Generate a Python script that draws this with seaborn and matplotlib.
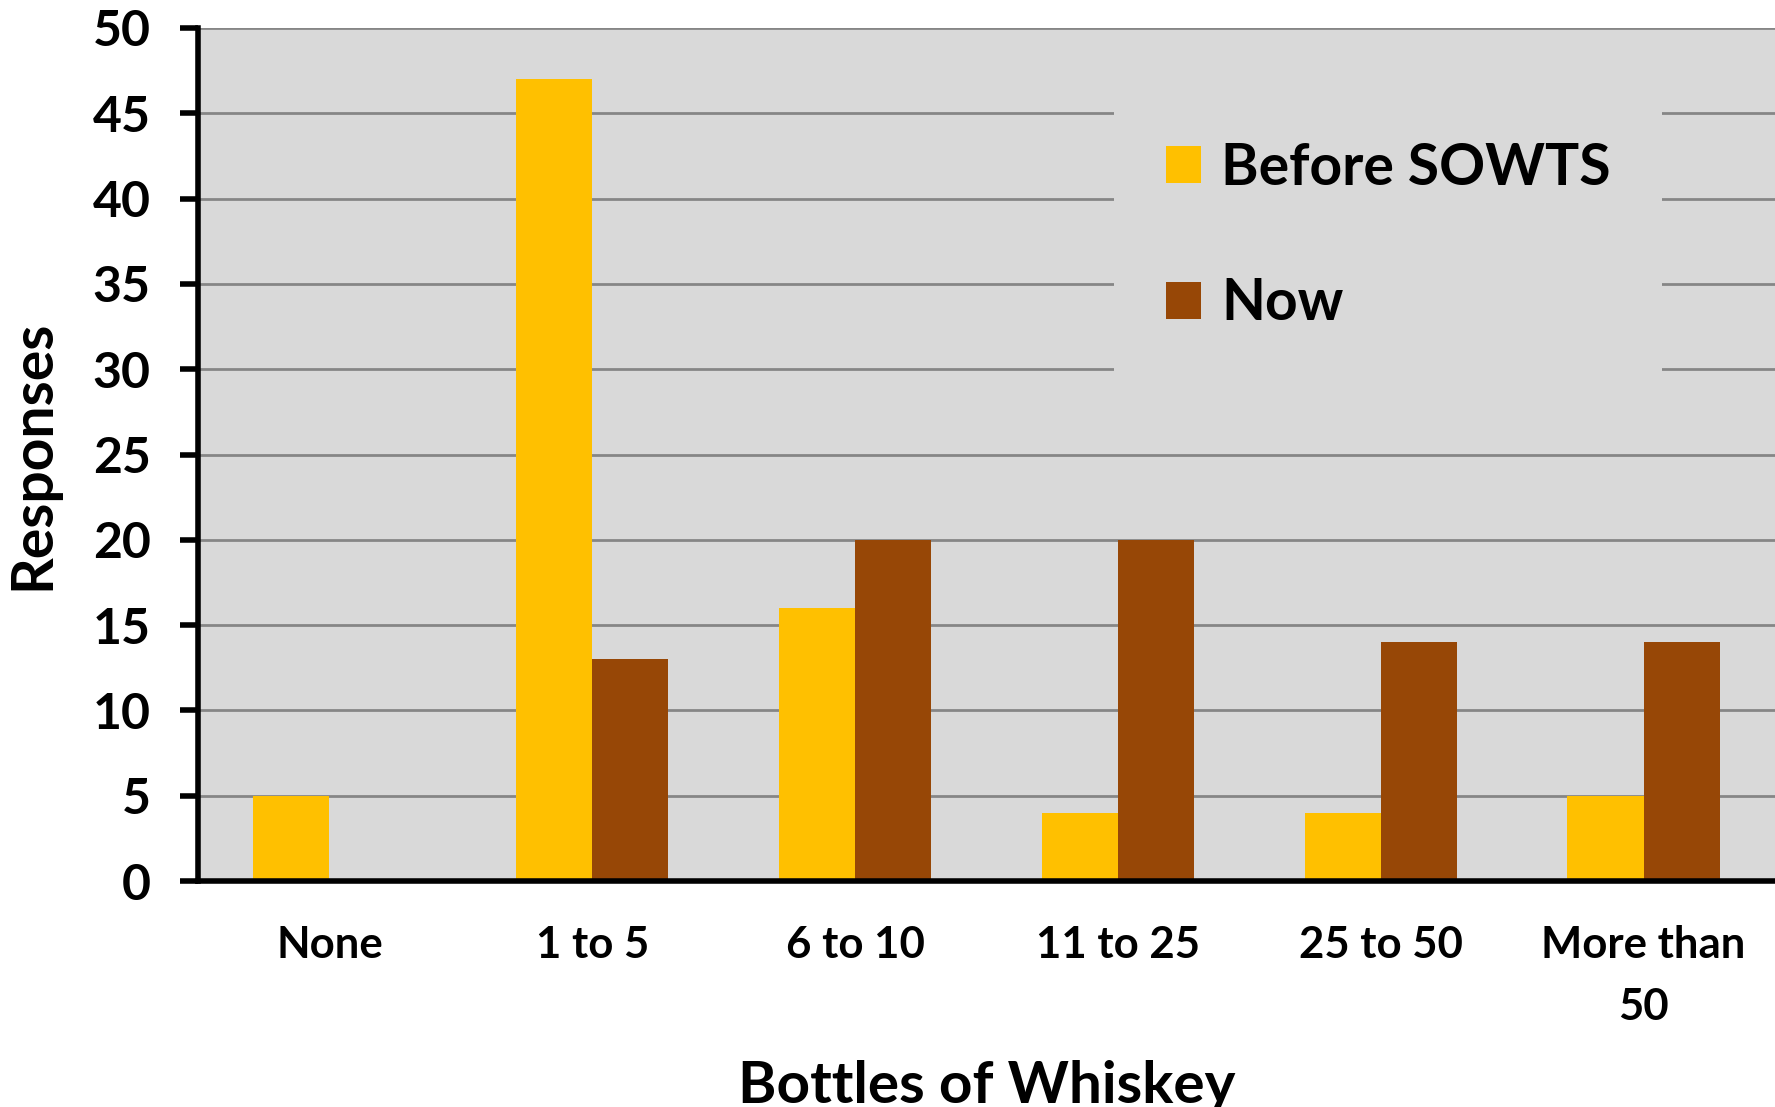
import pandas as pd
import matplotlib
matplotlib.use("Agg")
import matplotlib.pyplot as plt
import seaborn as sns

# values
categories = ["None", "1 to 5", "6 to 10", "11 to 25", "25 to 50", "More than\n50"]
before = [5, 47, 16, 4, 4, 5]
now = [0, 13, 20, 20, 14, 14]
series = ["Before SOWTS", "Now"]
colors = ["#FFC000", "#974706"]

df = pd.DataFrame({
    "Bottles": categories * 2,
    "Period": [series[0]] * len(categories) + [series[1]] * len(categories),
    "Responses": before + now,
})

plt.rcParams["font.family"] = ["Lato", "DejaVu Sans"]
plt.rcParams["font.weight"] = "bold"

W, H = 1775, 1107
fig = plt.figure(figsize=(W / 100, H / 100), dpi=100)
ax = fig.add_axes([198 / W, 1 - 881 / H, 1 - 198 / W, (881 - 28) / H])

sns.barplot(data=df, x="Bottles", y="Responses", hue="Period", palette=colors,
            width=0.58, gap=0, saturation=1, errorbar=None, ax=ax,
            linewidth=0)

ax.set_facecolor("#D9D9D9")
ax.set_xlim(-0.5, 5.5)
ax.set_ylim(0, 50)
ax.set_yticks(range(0, 51, 5))
ax.set_axisbelow(True)
ax.yaxis.grid(True, color="#868686", linewidth=2)
ax.xaxis.grid(False)

for side in ["top", "right"]:
    ax.spines[side].set_visible(False)
for side in ["left", "bottom"]:
    ax.spines[side].set_linewidth(4)
    ax.spines[side].set_color("black")

ax.tick_params(axis="y", direction="out", length=13, width=4, pad=21,
               labelsize=36)
ax.tick_params(axis="x", length=0, pad=32, labelsize=31.5)
for lbl in ax.get_xticklabels():
    lbl.set_linespacing(1.65)

ax.set_xlabel("Bottles of Whiskey", fontsize=42, fontweight="bold")
ax.set_ylabel("Responses", fontsize=41, fontweight="bold")
ax.xaxis.set_label_coords(0.5, -0.21)
ax.yaxis.set_label_coords(-0.088, 0.5)

sns.move_legend(ax, "upper left", bbox_to_anchor=(1086 / W, 1 - 62 / H),
                bbox_transform=fig.transFigure, title=None, frameon=True,
                facecolor="#D9D9D9", edgecolor="none", framealpha=1,
                fontsize=41, handlelength=0.62, handleheight=0.62,
                handletextpad=0.35, labelspacing=1.45, borderpad=0.9,
                fancybox=False)

fig.savefig("out.png", dpi=100)
